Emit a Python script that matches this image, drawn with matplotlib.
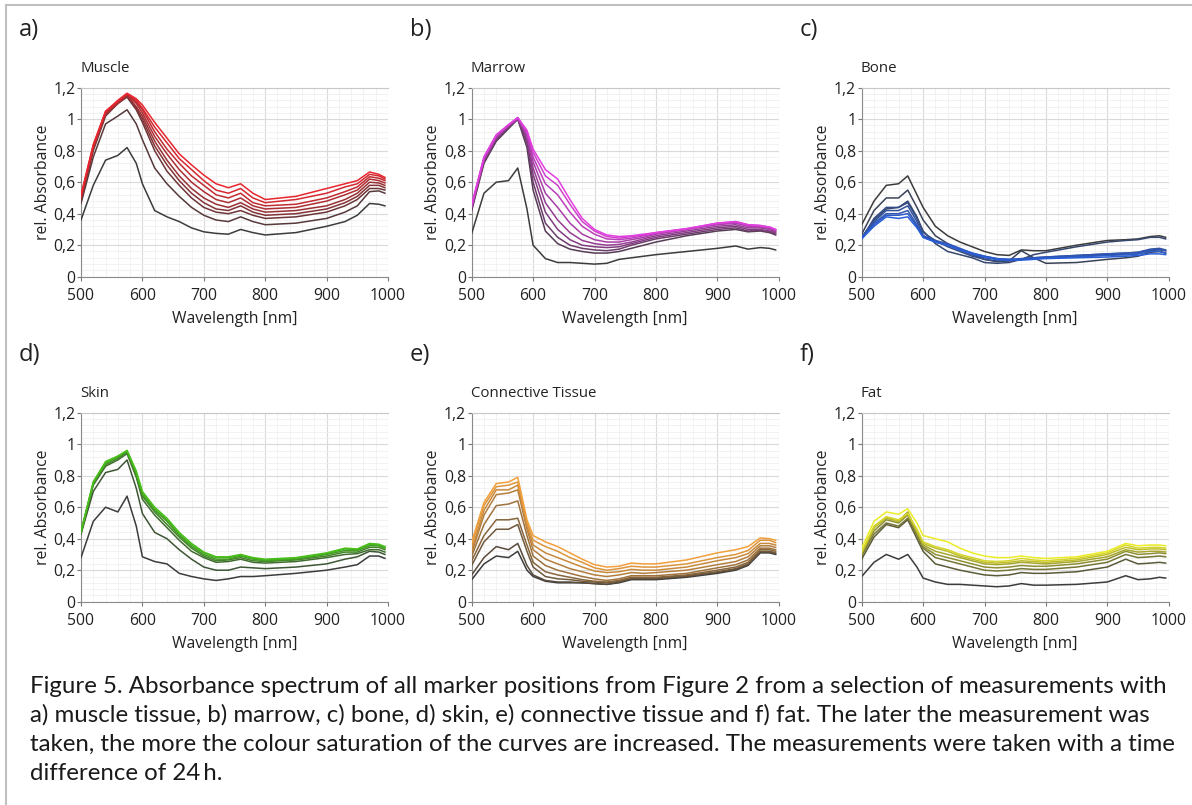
import numpy as np
import matplotlib
matplotlib.use("Agg")
import matplotlib.pyplot as plt
from matplotlib.ticker import MultipleLocator, FuncFormatter
from matplotlib.colors import to_rgb

wavelength = [500, 520, 540, 560, 575, 590, 600, 620, 640, 660, 680, 700,
              720, 740, 760, 780, 800, 850, 900, 930, 950, 970, 985, 995]

# each list = one measurement, earliest first
muscle = [
    [0.36, 0.58, 0.74, 0.77, 0.82, 0.72, 0.59, 0.42, 0.38, 0.35, 0.31, 0.285, 0.275, 0.27, 0.30, 0.28, 0.265, 0.28, 0.32, 0.35, 0.39, 0.465, 0.46, 0.45],
    [0.465, 0.76, 0.97, 1.02, 1.06, 0.97, 0.87, 0.69, 0.59, 0.51, 0.44, 0.39, 0.36, 0.35, 0.38, 0.35, 0.33, 0.34, 0.37, 0.41, 0.45, 0.54, 0.545, 0.53],
    [0.48, 0.80, 1.02, 1.10, 1.14, 1.06, 0.98, 0.80, 0.67, 0.58, 0.50, 0.44, 0.41, 0.40, 0.42, 0.39, 0.37, 0.38, 0.41, 0.45, 0.49, 0.56, 0.56, 0.55],
    [0.49, 0.81, 1.03, 1.10, 1.15, 1.07, 1.00, 0.83, 0.71, 0.61, 0.53, 0.47, 0.43, 0.42, 0.45, 0.41, 0.39, 0.40, 0.43, 0.47, 0.51, 0.58, 0.58, 0.565],
    [0.50, 0.82, 1.03, 1.10, 1.15, 1.08, 1.02, 0.86, 0.74, 0.64, 0.56, 0.50, 0.46, 0.44, 0.47, 0.43, 0.41, 0.42, 0.45, 0.49, 0.53, 0.60, 0.595, 0.58],
    [0.50, 0.82, 1.04, 1.11, 1.155, 1.10, 1.04, 0.89, 0.78, 0.68, 0.60, 0.54, 0.49, 0.47, 0.50, 0.45, 0.43, 0.44, 0.48, 0.52, 0.55, 0.62, 0.61, 0.595],
    [0.51, 0.83, 1.04, 1.11, 1.16, 1.11, 1.06, 0.92, 0.81, 0.72, 0.64, 0.58, 0.52, 0.50, 0.53, 0.47, 0.45, 0.46, 0.50, 0.54, 0.57, 0.635, 0.625, 0.61],
    [0.51, 0.83, 1.05, 1.11, 1.16, 1.12, 1.07, 0.95, 0.85, 0.75, 0.68, 0.61, 0.55, 0.53, 0.56, 0.50, 0.47, 0.49, 0.53, 0.57, 0.59, 0.65, 0.64, 0.62],
    [0.52, 0.84, 1.05, 1.12, 1.165, 1.13, 1.09, 0.98, 0.88, 0.78, 0.71, 0.645, 0.59, 0.565, 0.59, 0.53, 0.49, 0.51, 0.56, 0.59, 0.61, 0.665, 0.65, 0.63],
]

marrow = [
    [0.275, 0.53, 0.60, 0.61, 0.69, 0.43, 0.20, 0.115, 0.09, 0.09, 0.085, 0.08, 0.085, 0.11, 0.12, 0.13, 0.14, 0.16, 0.18, 0.195, 0.175, 0.185, 0.18, 0.17],
    [0.42, 0.72, 0.86, 0.94, 1.00, 0.82, 0.55, 0.29, 0.21, 0.175, 0.16, 0.15, 0.15, 0.16, 0.18, 0.20, 0.22, 0.26, 0.29, 0.30, 0.285, 0.29, 0.28, 0.265],
    [0.43, 0.73, 0.87, 0.95, 1.00, 0.85, 0.60, 0.34, 0.25, 0.20, 0.18, 0.17, 0.165, 0.175, 0.20, 0.22, 0.24, 0.27, 0.30, 0.31, 0.29, 0.295, 0.285, 0.27],
    [0.44, 0.74, 0.88, 0.95, 1.00, 0.87, 0.65, 0.41, 0.30, 0.235, 0.20, 0.19, 0.185, 0.19, 0.21, 0.23, 0.25, 0.28, 0.31, 0.32, 0.30, 0.30, 0.29, 0.28],
    [0.44, 0.74, 0.88, 0.96, 1.005, 0.89, 0.69, 0.47, 0.36, 0.28, 0.23, 0.21, 0.20, 0.205, 0.22, 0.24, 0.26, 0.29, 0.32, 0.33, 0.31, 0.31, 0.30, 0.285],
    [0.45, 0.75, 0.89, 0.96, 1.005, 0.90, 0.73, 0.53, 0.44, 0.34, 0.27, 0.235, 0.22, 0.22, 0.235, 0.25, 0.27, 0.30, 0.33, 0.34, 0.32, 0.315, 0.305, 0.29],
    [0.45, 0.75, 0.89, 0.96, 1.01, 0.91, 0.76, 0.59, 0.52, 0.41, 0.32, 0.27, 0.24, 0.235, 0.245, 0.26, 0.275, 0.30, 0.335, 0.345, 0.325, 0.32, 0.31, 0.295],
    [0.45, 0.76, 0.90, 0.965, 1.01, 0.92, 0.79, 0.64, 0.58, 0.46, 0.35, 0.29, 0.255, 0.245, 0.255, 0.265, 0.28, 0.305, 0.34, 0.35, 0.33, 0.325, 0.315, 0.30],
    [0.46, 0.76, 0.90, 0.965, 1.01, 0.93, 0.81, 0.68, 0.62, 0.49, 0.37, 0.30, 0.265, 0.255, 0.26, 0.27, 0.28, 0.305, 0.34, 0.35, 0.33, 0.325, 0.315, 0.30],
]

bone = [
    [0.33, 0.48, 0.58, 0.59, 0.64, 0.52, 0.44, 0.32, 0.26, 0.22, 0.19, 0.16, 0.14, 0.135, 0.17, 0.165, 0.165, 0.20, 0.23, 0.235, 0.24, 0.255, 0.26, 0.25],
    [0.27, 0.42, 0.50, 0.50, 0.55, 0.44, 0.36, 0.26, 0.21, 0.17, 0.14, 0.11, 0.095, 0.10, 0.165, 0.12, 0.085, 0.09, 0.11, 0.12, 0.13, 0.155, 0.16, 0.15],
    [0.25, 0.36, 0.43, 0.44, 0.48, 0.38, 0.29, 0.21, 0.16, 0.14, 0.12, 0.09, 0.085, 0.09, 0.11, 0.14, 0.155, 0.19, 0.22, 0.23, 0.235, 0.25, 0.25, 0.24],
    [0.24, 0.37, 0.44, 0.44, 0.47, 0.37, 0.28, 0.23, 0.19, 0.16, 0.13, 0.11, 0.10, 0.10, 0.11, 0.12, 0.12, 0.13, 0.14, 0.14, 0.145, 0.165, 0.17, 0.165],
    [0.25, 0.35, 0.42, 0.42, 0.45, 0.35, 0.26, 0.22, 0.20, 0.17, 0.14, 0.12, 0.11, 0.105, 0.11, 0.12, 0.125, 0.135, 0.145, 0.15, 0.155, 0.175, 0.18, 0.17],
    [0.25, 0.34, 0.40, 0.40, 0.42, 0.33, 0.26, 0.23, 0.21, 0.18, 0.15, 0.13, 0.115, 0.11, 0.115, 0.12, 0.125, 0.135, 0.145, 0.15, 0.155, 0.17, 0.175, 0.165],
    [0.25, 0.33, 0.39, 0.39, 0.40, 0.32, 0.25, 0.22, 0.20, 0.175, 0.15, 0.13, 0.115, 0.11, 0.11, 0.115, 0.12, 0.125, 0.135, 0.14, 0.145, 0.16, 0.16, 0.15],
    [0.24, 0.32, 0.38, 0.37, 0.38, 0.31, 0.25, 0.22, 0.20, 0.17, 0.145, 0.125, 0.11, 0.105, 0.105, 0.11, 0.115, 0.12, 0.125, 0.13, 0.135, 0.145, 0.145, 0.14],
]

skin = [
    [0.28, 0.51, 0.60, 0.57, 0.67, 0.48, 0.285, 0.255, 0.24, 0.18, 0.16, 0.145, 0.135, 0.145, 0.16, 0.16, 0.165, 0.18, 0.20, 0.22, 0.235, 0.29, 0.29, 0.275],
    [0.43, 0.70, 0.82, 0.84, 0.90, 0.72, 0.56, 0.44, 0.40, 0.33, 0.27, 0.22, 0.20, 0.20, 0.22, 0.215, 0.21, 0.22, 0.24, 0.27, 0.285, 0.32, 0.315, 0.30],
    [0.43, 0.74, 0.86, 0.90, 0.94, 0.79, 0.65, 0.55, 0.47, 0.39, 0.32, 0.28, 0.25, 0.255, 0.27, 0.25, 0.245, 0.255, 0.28, 0.30, 0.305, 0.33, 0.33, 0.315],
    [0.44, 0.75, 0.87, 0.91, 0.95, 0.80, 0.67, 0.57, 0.49, 0.41, 0.34, 0.29, 0.26, 0.265, 0.28, 0.26, 0.255, 0.265, 0.29, 0.315, 0.315, 0.345, 0.345, 0.33],
    [0.44, 0.75, 0.88, 0.92, 0.955, 0.81, 0.68, 0.58, 0.51, 0.42, 0.35, 0.30, 0.27, 0.27, 0.29, 0.27, 0.26, 0.27, 0.30, 0.325, 0.325, 0.355, 0.355, 0.34],
    [0.44, 0.76, 0.88, 0.92, 0.96, 0.82, 0.69, 0.59, 0.52, 0.43, 0.36, 0.31, 0.28, 0.28, 0.295, 0.275, 0.265, 0.275, 0.305, 0.335, 0.33, 0.365, 0.36, 0.345],
    [0.45, 0.76, 0.89, 0.925, 0.96, 0.83, 0.70, 0.60, 0.53, 0.44, 0.37, 0.315, 0.285, 0.285, 0.30, 0.28, 0.27, 0.28, 0.31, 0.34, 0.335, 0.37, 0.365, 0.35],
]

connective = [
    [0.14, 0.24, 0.29, 0.28, 0.32, 0.20, 0.16, 0.13, 0.12, 0.12, 0.12, 0.115, 0.11, 0.12, 0.14, 0.14, 0.14, 0.155, 0.18, 0.20, 0.23, 0.31, 0.31, 0.30],
    [0.17, 0.28, 0.35, 0.33, 0.37, 0.23, 0.17, 0.135, 0.125, 0.125, 0.12, 0.115, 0.11, 0.125, 0.145, 0.145, 0.145, 0.16, 0.185, 0.205, 0.235, 0.315, 0.315, 0.305],
    [0.23, 0.38, 0.46, 0.46, 0.49, 0.32, 0.22, 0.16, 0.145, 0.14, 0.13, 0.125, 0.12, 0.13, 0.15, 0.15, 0.15, 0.165, 0.19, 0.21, 0.24, 0.32, 0.32, 0.31],
    [0.26, 0.42, 0.52, 0.52, 0.53, 0.36, 0.25, 0.19, 0.17, 0.155, 0.14, 0.13, 0.125, 0.135, 0.155, 0.155, 0.155, 0.17, 0.20, 0.22, 0.25, 0.33, 0.33, 0.32],
    [0.29, 0.49, 0.61, 0.62, 0.64, 0.42, 0.29, 0.23, 0.20, 0.18, 0.16, 0.145, 0.135, 0.145, 0.165, 0.165, 0.165, 0.18, 0.215, 0.235, 0.265, 0.34, 0.34, 0.33],
    [0.31, 0.55, 0.68, 0.69, 0.71, 0.46, 0.33, 0.27, 0.24, 0.21, 0.19, 0.17, 0.16, 0.17, 0.185, 0.18, 0.185, 0.20, 0.235, 0.255, 0.285, 0.355, 0.355, 0.345],
    [0.33, 0.58, 0.71, 0.71, 0.74, 0.48, 0.36, 0.31, 0.28, 0.25, 0.22, 0.195, 0.185, 0.19, 0.205, 0.20, 0.20, 0.22, 0.26, 0.28, 0.305, 0.37, 0.37, 0.36],
    [0.36, 0.61, 0.73, 0.74, 0.76, 0.50, 0.39, 0.35, 0.32, 0.28, 0.25, 0.215, 0.20, 0.21, 0.225, 0.22, 0.22, 0.24, 0.28, 0.30, 0.325, 0.39, 0.39, 0.375],
    [0.38, 0.63, 0.75, 0.76, 0.79, 0.52, 0.42, 0.38, 0.35, 0.31, 0.27, 0.235, 0.22, 0.225, 0.245, 0.24, 0.24, 0.265, 0.31, 0.33, 0.35, 0.405, 0.40, 0.39],
]

fat = [
    [0.16, 0.25, 0.30, 0.27, 0.30, 0.22, 0.15, 0.125, 0.11, 0.11, 0.105, 0.10, 0.095, 0.10, 0.115, 0.105, 0.105, 0.11, 0.125, 0.165, 0.14, 0.145, 0.155, 0.15],
    [0.27, 0.41, 0.49, 0.47, 0.52, 0.40, 0.32, 0.24, 0.22, 0.20, 0.185, 0.17, 0.165, 0.17, 0.185, 0.18, 0.18, 0.19, 0.22, 0.27, 0.24, 0.245, 0.25, 0.245],
    [0.29, 0.43, 0.50, 0.48, 0.53, 0.42, 0.34, 0.28, 0.26, 0.24, 0.22, 0.20, 0.195, 0.20, 0.21, 0.205, 0.205, 0.22, 0.25, 0.30, 0.28, 0.285, 0.29, 0.285],
    [0.30, 0.45, 0.52, 0.50, 0.55, 0.43, 0.35, 0.30, 0.28, 0.26, 0.24, 0.22, 0.215, 0.22, 0.23, 0.225, 0.225, 0.24, 0.27, 0.32, 0.30, 0.305, 0.31, 0.305],
    [0.31, 0.47, 0.53, 0.51, 0.57, 0.44, 0.36, 0.32, 0.30, 0.28, 0.26, 0.24, 0.235, 0.24, 0.25, 0.245, 0.24, 0.255, 0.285, 0.33, 0.315, 0.32, 0.32, 0.315],
    [0.31, 0.47, 0.535, 0.51, 0.56, 0.45, 0.37, 0.34, 0.32, 0.29, 0.27, 0.25, 0.245, 0.25, 0.26, 0.255, 0.25, 0.265, 0.30, 0.345, 0.33, 0.335, 0.335, 0.33],
    [0.32, 0.48, 0.54, 0.52, 0.56, 0.46, 0.38, 0.35, 0.33, 0.30, 0.28, 0.26, 0.255, 0.26, 0.275, 0.265, 0.26, 0.275, 0.31, 0.36, 0.34, 0.345, 0.345, 0.34],
    [0.34, 0.51, 0.57, 0.555, 0.59, 0.50, 0.42, 0.40, 0.38, 0.34, 0.31, 0.29, 0.28, 0.28, 0.29, 0.28, 0.275, 0.285, 0.32, 0.37, 0.355, 0.36, 0.36, 0.355],
]

titles = ["Muscle", "Marrow", "Bone", "Skin", "Connective Tissue", "Fat"]
letters = ["a)", "b)", "c)", "d)", "e)", "f)"]
datasets = [muscle, marrow, bone, skin, connective, fat]
end_colors = ["#e8262e", "#e23ee0", "#2a5ed8", "#48c01a", "#f2a03c", "#ecec28"]

caption = [
    "Figure 5. Absorbance spectrum of all marker positions from Figure 2 from a selection of measurements with",
    "a) muscle tissue, b) marrow, c) bone, d) skin, e) connective tissue and f) fat. The later the measurement was",
    "taken, the more the colour saturation of the curves are increased. The measurements were taken with a time",
    "difference of 24\u2009h.",
]

plt.rcParams['font.family'] = ['Open Sans', 'DejaVu Sans']

W, H = 1192, 805
fig = plt.figure(figsize=(W / 100, H / 100), dpi=100)

# axes boxes in pixels: left, top
lefts = [81, 471.7, 861.7]
tops = [87.7, 412.7]
aw, ah = 307, 189

start = np.array(to_rgb("#3c3c3c"))


def comma(v, pos):
    s = ("%.1f" % v).rstrip("0").rstrip(".")
    return s.replace(".", ",")


for i, (curves, title, letter, col) in enumerate(zip(datasets, titles, letters, end_colors)):
    row, c = divmod(i, 3)
    x0, y0 = lefts[c], tops[row]
    ax = fig.add_axes([x0 / W, 1 - (y0 + ah) / H, aw / W, ah / H])
    end = np.array(to_rgb(col))
    n = len(curves)
    for k, vals in enumerate(curves):
        t = (k / (n - 1)) ** 0.9
        color = start * (1 - t) + end * t
        ax.plot(wavelength, vals, color=color, lw=1.1, zorder=3 + k)

    ax.set_xlim(500, 1000)
    ax.set_ylim(0, 1.2)
    ax.xaxis.set_major_locator(MultipleLocator(100))
    ax.xaxis.set_minor_locator(MultipleLocator(20))
    ax.yaxis.set_major_locator(MultipleLocator(0.2))
    ax.yaxis.set_minor_locator(MultipleLocator(0.04))
    ax.yaxis.set_major_formatter(FuncFormatter(comma))
    ax.grid(which="major", color="#dadada", lw=0.8)
    ax.grid(which="minor", color="#f0f0f0", lw=0.6)
    ax.set_axisbelow(True)
    ax.tick_params(which="major", length=3, width=0.8, color="#777777",
                   labelsize=11.3, labelcolor="#222222")
    ax.tick_params(axis="x", pad=5)
    ax.tick_params(axis="y", pad=1)
    ax.tick_params(which="minor", length=0)
    for side in ["left", "bottom"]:
        ax.spines[side].set_color("#8a8a8a")
        ax.spines[side].set_linewidth(0.8)
    ax.spines["top"].set_color("#c8c8c8")
    ax.spines["right"].set_visible(False)
    ax.set_xlabel("Wavelength [nm]", fontsize=11.3, color="#222222", labelpad=5)
    ax.set_ylabel("rel. Absorbance", fontsize=11.3, color="#222222", labelpad=2)

    fig.text((x0 - 1) / W, 1 - (y0 - 19) / H, title, fontsize=10.8,
             color="#222222", va="center", ha="left")
    fig.text((x0 - 62) / W, 1 - (y0 - 58) / H, letter, fontsize=17,
             color="#222222", va="center", ha="left")

for j, line in enumerate(caption):
    fig.text(30 / W, 1 - (686 + 29 * j) / H, line, family=['Lato', 'DejaVu Sans'],
             fontsize=17.3, color="#1a1a1a", va="center", ha="left")

# frame lines at top and left of the figure
fig.add_artist(plt.Line2D([6 / W, 6 / W], [0, 1 - 5 / H], color="#c0c0c0", lw=1.5))
fig.add_artist(plt.Line2D([6 / W, 1], [1 - 5 / H, 1 - 5 / H], color="#c0c0c0", lw=1.5))

fig.savefig("out.png", dpi=100)
